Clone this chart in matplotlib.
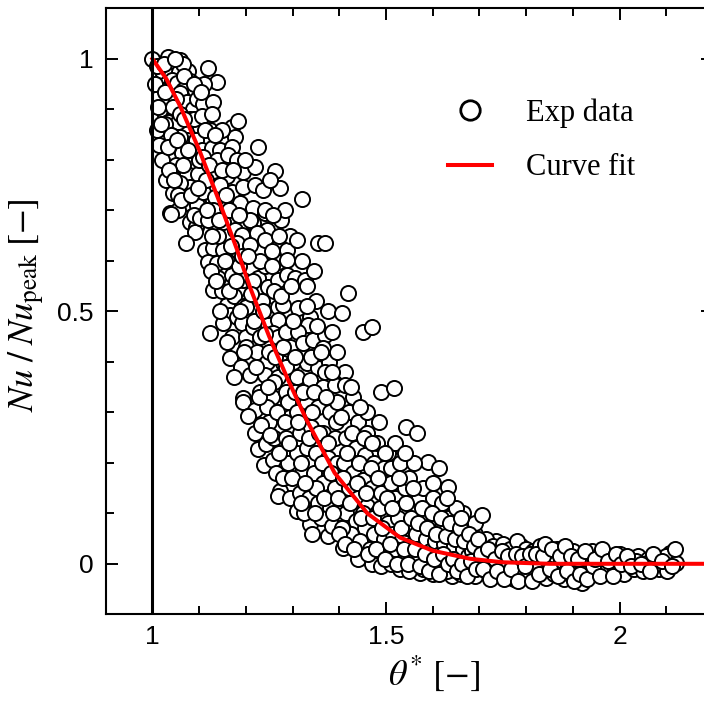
import matplotlib
matplotlib.use("Agg")
import matplotlib.pyplot as plt
from matplotlib.lines import Line2D
import numpy as np

# ---------------- data ----------------
# experimental points, grouped by theta* range: (theta*, Nu/Nu_peak)
exp_a = [(1.000,1.000),(1.031,0.998),(1.034,1.003),(1.059,0.998),(1.045,0.985),(1.020,0.975),(1.040,0.965),
         (1.057,0.974),(1.076,0.976),(1.065,0.990),(1.030,0.950),(1.042,0.959),(1.052,0.953),(1.080,0.956),
         (1.023,0.939),(1.066,0.939),(1.091,0.938),(1.059,0.933),(1.015,0.925),(1.034,0.914),(1.073,0.914),
         (1.050,0.920),(1.087,0.900),(1.095,0.920),(1.025,0.895),(1.045,0.885),(1.034,0.874),(1.066,0.860),
         (1.055,0.875),(1.080,0.880),(1.102,0.864),(1.023,0.840),(1.045,0.826),(1.073,0.840),(1.010,0.860),
         (1.060,0.845),(1.038,0.810),(1.063,0.814),(1.087,0.794),(1.020,0.800),(1.050,0.790),(1.073,0.771),
         (1.098,0.771),(1.030,0.760),(1.045,0.735),(1.080,0.747),(1.060,0.755),(1.038,0.695),(1.070,0.715),
         (1.098,0.717),(1.055,0.700),(1.080,0.677),(1.094,0.667),(1.040,0.693),(1.095,0.711),(1.091,0.657),
         (1.072,0.636),(1.088,0.690),(1.085,0.820),(1.093,0.840),(1.010,0.985),(1.025,0.990),(1.048,1.000),
         (1.068,0.965),(1.028,0.870),(1.015,0.830),(1.040,0.850),(1.090,0.880),(1.065,0.790),(1.035,0.780),
         (1.100,0.800),(1.055,0.730)]
exp_b = [(1.119,0.981),(1.138,0.954),(1.108,0.910),(1.130,0.914),(1.106,0.886),(1.127,0.890),(1.123,0.860),
         (1.106,0.820),(1.127,0.824),(1.144,0.820),(1.108,0.806),(1.138,0.800),(1.130,0.777),(1.108,0.737),
         (1.134,0.727),(1.130,0.701),(1.102,0.685),(1.113,0.622),(1.130,0.626),(1.151,0.622),(1.119,0.598),
         (1.138,0.596),(1.159,0.655),(1.151,0.677),(1.159,0.705),(1.170,0.864),(1.183,0.876),(1.176,0.846),
         (1.170,0.826),(1.162,0.810),(1.159,0.767),(1.194,0.775),(1.170,0.737),(1.194,0.747),(1.187,0.715),
         (1.194,0.667),(1.176,0.661),(1.191,0.651),(1.180,0.636),(1.141,0.566),(1.130,0.542),(1.170,0.572),
         (1.187,0.546),(1.194,0.562),(1.159,0.512),(1.166,0.493),(1.151,0.477),(1.123,0.457),(1.180,0.489),
         (1.191,0.477),(1.180,0.429),(1.166,0.407),(1.194,0.328),(1.193,0.320),(1.115,0.760),(1.145,0.750),
         (1.120,0.680),(1.165,0.700),(1.150,0.860),(1.180,0.800),(1.140,0.650),(1.160,0.600),(1.185,0.590),
         (1.125,0.580),(1.150,0.540),(1.175,0.530),(1.195,0.510),(1.170,0.450),(1.190,0.390),(1.175,0.370),
         (1.160,0.440),(1.145,0.500),(1.200,0.450),(1.110,0.950)]
exp_c = [(1.226,0.826),(1.219,0.785),(1.262,0.777),(1.273,0.745),(1.219,0.751),(1.215,0.705),(1.241,0.695),
         (1.215,0.675),(1.245,0.661),(1.209,0.681),(1.241,0.701),(1.224,0.655),(1.241,0.642),(1.209,0.632),
         (1.266,0.626),(1.288,0.622),(1.269,0.598),(1.288,0.602),(1.226,0.566),(1.248,0.548),(1.269,0.562),
         (1.288,0.572),(1.201,0.508),(1.215,0.469),(1.248,0.502),(1.269,0.508),(1.280,0.512),(1.269,0.483),
         (1.230,0.449),(1.258,0.457),(1.269,0.449),(1.201,0.429),(1.224,0.419),(1.245,0.399),(1.280,0.397),
         (1.300,0.399),(1.209,0.373),(1.241,0.373),(1.269,0.369),(1.219,0.304),(1.204,0.292),(1.227,0.228),
         (1.244,0.238),(1.239,0.195),(1.259,0.205),(1.273,0.145),(1.269,0.135),(1.294,0.131),(1.230,0.340),
         (1.255,0.330),(1.285,0.340),(1.220,0.260),(1.250,0.280),(1.275,0.300),(1.295,0.290),(1.260,0.250),
         (1.285,0.250),(1.265,0.180),(1.290,0.200),(1.280,0.170),(1.240,0.590),(1.260,0.540),(1.235,0.520),
         (1.285,0.460),(1.250,0.420),(1.295,0.430),(1.230,0.600),(1.255,0.620),(1.275,0.680),(1.295,0.650),
         (1.215,0.560),(1.260,0.360),(1.290,0.320),(1.245,0.310)]
exp_d = [(1.320,0.722),(1.309,0.642),(1.354,0.636),(1.369,0.636),(1.305,0.566),(1.326,0.562),(1.311,0.506),
         (1.337,0.489),(1.333,0.473),(1.311,0.459),(1.322,0.437),(1.343,0.443),(1.369,0.453),(1.365,0.427),
         (1.330,0.397),(1.354,0.387),(1.379,0.399),(1.309,0.369),(1.337,0.363),(1.365,0.350),(1.390,0.354),
         (1.309,0.105),(1.337,0.079),(1.375,0.056),(1.310,0.300),(1.330,0.320),(1.355,0.310),(1.380,0.300),
         (1.395,0.320),(1.315,0.260),(1.340,0.270),(1.365,0.260),(1.390,0.250),(1.310,0.220),(1.330,0.230),
         (1.350,0.220),(1.375,0.210),(1.395,0.200),(1.320,0.180),(1.345,0.180),(1.365,0.160),(1.390,0.150),
         (1.315,0.140),(1.335,0.130),(1.355,0.120),(1.380,0.110),(1.400,0.100),(1.325,0.100),(1.360,0.090),
         (1.385,0.075),(1.350,0.150),(1.330,0.550),(1.350,0.520),(1.375,0.500),(1.320,0.600),(1.345,0.580),
         (1.395,0.420),(1.385,0.460),(1.340,0.410),(1.305,0.340),(1.370,0.380)]
exp_e = [(1.418,0.536),(1.405,0.497),(1.450,0.459),(1.469,0.469),(1.412,0.379),(1.412,0.354),(1.490,0.340),
         (1.408,0.032),(1.420,0.300),(1.440,0.280),(1.460,0.260),(1.480,0.240),(1.415,0.250),(1.435,0.230),
         (1.455,0.215),(1.475,0.200),(1.495,0.190),(1.410,0.200),(1.430,0.180),(1.450,0.165),(1.470,0.150),
         (1.490,0.140),(1.420,0.150),(1.440,0.130),(1.460,0.115),(1.480,0.100),(1.500,0.090),(1.415,0.100),
         (1.435,0.085),(1.455,0.070),(1.475,0.060),(1.495,0.050),(1.425,0.060),(1.445,0.045),(1.465,0.030),
         (1.485,0.020),(1.440,0.010),(1.470,0.000),(1.490,-0.005),(1.405,0.070),(1.450,0.100),(1.430,0.330),
         (1.460,0.300),(1.485,0.280)]
exp_f = [(1.518,0.348),(1.543,0.270),(1.567,0.260),(1.589,0.201),(1.614,0.189),(1.632,0.153),(1.664,0.101),
         (1.572,-0.018),(1.642,-0.024),(1.675,0.056),(1.510,0.160),(1.520,0.130),(1.530,0.110),(1.540,0.150),
         (1.550,0.120),(1.560,0.100),(1.570,0.130),(1.580,0.090),(1.590,0.110),(1.600,0.080),(1.610,0.100),
         (1.620,0.070),(1.630,0.090),(1.640,0.060),(1.650,0.080),(1.660,0.050),(1.670,0.070),(1.680,0.045),
         (1.690,0.060),(1.700,0.040),(1.505,0.080),(1.515,0.060),(1.525,0.090),(1.535,0.050),(1.545,0.070),
         (1.555,0.040),(1.565,0.060),(1.575,0.030),(1.585,0.050),(1.595,0.025),(1.605,0.045),(1.615,0.020),
         (1.625,0.040),(1.635,0.015),(1.645,0.035),(1.655,0.010),(1.665,0.030),(1.675,0.015),(1.685,0.025),
         (1.695,0.005),(1.500,0.020),(1.510,0.000),(1.520,0.030),(1.530,-0.010),(1.540,0.010),(1.550,-0.015),
         (1.560,0.005),(1.570,0.010),(1.580,-0.010),(1.590,0.000),(1.600,-0.020),(1.610,-0.005),(1.620,0.000),
         (1.630,-0.015),(1.650,-0.005),(1.660,-0.020),(1.670,0.000),(1.680,-0.010),(1.690,-0.025),(1.700,0.000),
         (1.510,0.190),(1.530,0.200),(1.505,0.220),(1.520,0.240),(1.550,0.170),(1.580,0.150),(1.600,0.130),
         (1.620,0.120),(1.650,0.110),(1.690,0.080)]
exp_g = [(1.706,0.097),(1.736,0.046),(1.789,0.036),(1.941,0.026),(2.109,0.022),(1.715,0.050),(1.730,0.035),
         (1.750,0.040),(1.765,0.030),(1.780,0.045),(1.800,0.030),(1.815,0.025),(1.830,0.035),(1.850,0.020),
         (1.865,0.030),(1.880,0.020),(1.900,0.025),(1.920,0.015),(1.960,0.020),(1.980,0.015),(2.000,0.020),
         (2.020,0.010),(2.040,0.015),(2.060,0.010),(2.080,0.012),(2.100,0.015),(1.710,0.015),(1.725,0.005),
         (1.740,0.020),(1.755,0.000),(1.770,0.010),(1.785,0.005),(1.800,0.000),(1.815,0.010),(1.830,-0.005),
         (1.845,0.005),(1.860,0.000),(1.875,0.008),(1.890,-0.002),(1.905,0.005),(1.920,0.000),(1.935,0.005),
         (1.950,-0.003),(1.965,0.005),(1.980,0.000),(1.995,0.003),(2.010,-0.002),(2.035,0.006),(2.059,0.002),
         (2.080,0.000),(2.120,0.002),(1.715,-0.015),(1.730,-0.025),(1.745,-0.010),(1.760,-0.020),(1.775,-0.030),
         (1.790,-0.015),(1.805,-0.025),(1.820,-0.010),(1.842,-0.028),(1.860,-0.020),(1.880,-0.030),(1.898,-0.024),
         (1.919,-0.038),(1.935,-0.015),(1.950,-0.020),(1.970,-0.010),(1.990,-0.015),(2.010,-0.020),(2.030,-0.010),
         (2.050,-0.015),(2.070,-0.005),(2.084,-0.010),(2.101,-0.014)]
exp_h = [(1.005,0.950),(1.012,0.905),(1.018,0.870),(1.027,0.935),(1.033,0.825),(1.043,0.905),(1.047,0.760),
         (1.053,0.840),(1.058,0.890),(1.062,0.720),(1.068,0.880),(1.077,0.820),(1.083,0.730),(1.088,0.950),
         (1.097,0.745),(1.104,0.935),(1.112,0.860),(1.117,0.700),(1.122,0.790),(1.128,0.650),(1.133,0.850),
         (1.137,0.560),(1.143,0.680),(1.148,0.780),(1.155,0.600),(1.157,0.730),(1.163,0.540),(1.168,0.630),
         (1.172,0.780),(1.178,0.560),(1.185,0.690),(1.188,0.500),(1.192,0.610),(1.197,0.420),(1.199,0.800),
         (1.205,0.610),(1.212,0.535),(1.218,0.480),(1.222,0.390),(1.228,0.330),(1.232,0.275),(1.236,0.500),
         (1.242,0.455),(1.247,0.350),(1.252,0.255),(1.256,0.590),(1.262,0.410),(1.266,0.300),(1.270,0.220),
         (1.276,0.530),(1.279,0.430),(1.283,0.280),(1.287,0.390),(1.292,0.240),(1.297,0.550),(1.298,0.170),
         (1.272,0.650),(1.283,0.700),(1.258,0.690),(1.236,0.740),(1.252,0.760)]
exp_i = [(1.302,0.480),(1.306,0.410),(1.312,0.280),(1.318,0.200),(1.322,0.340),(1.326,0.160),(1.331,0.510),
         (1.336,0.250),(1.341,0.300),(1.346,0.340),(1.348,0.100),(1.352,0.470),(1.357,0.260),(1.362,0.200),
         (1.367,0.130),(1.371,0.330),(1.376,0.240),(1.382,0.180),(1.387,0.100),(1.392,0.280),(1.397,0.130),
         (1.399,0.060),(1.360,0.420),(1.385,0.380),(1.318,0.120),(1.342,0.060),(1.403,0.290),(1.407,0.170),
         (1.413,0.040),(1.417,0.220),(1.423,0.120),(1.428,0.260),(1.432,0.030),(1.437,0.160),(1.442,0.200),
         (1.447,0.090),(1.452,0.250),(1.457,0.140),(1.462,0.020),(1.467,0.190),(1.472,0.090),(1.478,0.030),
         (1.482,0.170),(1.487,0.110),(1.492,0.070),(1.497,0.010),(1.445,0.310),(1.470,0.240),(1.425,0.350),
         (1.498,0.220)]
exp_j = [(1.503,0.130),(1.508,0.040),(1.513,0.110),(1.523,0.000),(1.527,0.170),(1.533,0.070),(1.538,0.030),
         (1.543,0.120),(1.548,0.000),(1.553,0.090),(1.558,0.150),(1.562,0.030),(1.568,0.080),(1.573,-0.005),
         (1.578,0.110),(1.583,0.020),(1.588,0.070),(1.593,-0.015),(1.598,0.100),(1.603,0.010),(1.608,0.060),
         (1.613,-0.020),(1.618,0.090),(1.623,0.020),(1.628,0.055),(1.633,0.000),(1.638,0.080),(1.643,0.010),
         (1.648,0.050),(1.653,-0.015),(1.658,0.070),(1.663,0.000),(1.668,0.045),(1.673,-0.025),(1.678,0.060),
         (1.683,0.005),(1.688,0.035),(1.693,-0.010),(1.698,0.050),(1.560,0.200),(1.540,0.220),(1.600,0.160),
         (1.630,0.130),(1.660,0.090)]
exp_k = [(1.703,0.020),(1.708,-0.010),(1.718,0.030),(1.722,-0.030),(1.733,0.010),(1.738,-0.015),(1.748,0.025),
         (1.752,-0.030),(1.762,0.015),(1.768,-0.010),(1.778,0.020),(1.782,-0.035),(1.792,0.015),(1.797,-0.005),
         (1.808,0.020),(1.812,-0.035),(1.822,0.020),(1.827,-0.020),(1.837,0.015),(1.840,0.040),(1.852,-0.010),
         (1.856,0.030),(1.868,-0.025),(1.872,0.015),(1.884,0.035),(1.887,-0.015),(1.895,0.015),(1.902,-0.035),
         (1.910,0.010),(1.915,-0.020),(1.927,0.025),(1.930,-0.030),(1.943,-0.005),(1.947,0.010),(1.958,-0.025),
         (1.962,0.030),(1.975,0.005),(1.985,-0.025),(1.992,0.020),(2.003,0.000),(2.015,0.015),(2.025,-0.005),
         (2.045,0.000),(2.065,-0.015),(2.072,0.020),(2.090,0.005),(2.113,-0.005),(2.118,0.030)]

# curve fit
fit_theta = [1.00, 1.03, 1.06, 1.10, 1.14, 1.18, 1.21, 1.25, 1.29, 1.33, 1.39, 1.46,
             1.53, 1.60, 1.68, 1.75, 1.85, 2.00, 2.20]
fit_nu = [1.00, 0.96, 0.905, 0.82, 0.725, 0.625, 0.545, 0.45, 0.365, 0.285, 0.18, 0.10,
          0.052, 0.026, 0.010, 0.003, 0.0, 0.0, 0.0]

x_ticks = [1, 1.5, 2]
x_ticklabels = ["1", "1.5", "2"]
y_ticks = [0, 0.5, 1]
y_ticklabels = ["0", "0.5", "1"]

# ---------------- plotting ----------------
plt.rcParams['mathtext.fontset'] = 'stix'
plt.rcParams['font.family'] = ['Liberation Sans', 'DejaVu Sans']

W, H = 704, 714
fig = plt.figure(figsize=(W / 100, H / 100), dpi=100)
left, right, top, bottom = 105.7, 713.0, 8.3, 614.3
ax = fig.add_axes([left / W, (H - bottom) / H, (right - left) / W, (bottom - top) / H])

pts = np.array(exp_a + exp_b + exp_c + exp_d + exp_e + exp_f + exp_g +
               exp_h + exp_i + exp_j + exp_k)
ax.scatter(pts[:, 0], pts[:, 1], s=118, facecolor='white', edgecolor='black',
           linewidths=1.4, zorder=2)
ax.plot(fit_theta, fit_nu, color='#ff0000', lw=2.9, zorder=3)
ax.axvline(1.0, color='black', lw=2.2, zorder=4)

ax.set_xlim(0.9, 2.2)
ax.set_ylim(-0.1, 1.1)
ax.set_xticks(x_ticks)
ax.set_xticklabels(x_ticklabels)
ax.set_yticks(y_ticks)
ax.set_yticklabels(y_ticklabels)
ax.set_xticks(np.arange(0.9, 2.21, 0.1), minor=True)
ax.set_yticks(np.arange(-0.1, 1.11, 0.1), minor=True)
ax.tick_params(which='both', direction='in', top=True, right=True, width=1.4,
               labelsize=19, colors='black')
ax.tick_params(which='major', length=8.6)
ax.tick_params(which='minor', length=5.6)
ax.tick_params(axis='x', which='major', pad=8)
ax.tick_params(axis='y', which='major', pad=9)
for sp in ax.spines.values():
    sp.set_linewidth(1.5)

ax.set_xlabel(r'$\theta^{*}\ [-]$', fontsize=26)
ax.xaxis.set_label_coords((434 - left) / (right - left), -0.064)
ax.set_ylabel(r'$Nu\;/\;Nu_{\mathrm{peak}}\;[-]$', fontsize=26)
ax.yaxis.set_label_coords((47 - left) / (right - left), 0.51)

handles = [Line2D([], [], marker='o', ls='none', mfc='white', mec='black', ms=14, mew=2.0),
           Line2D([], [], color='#ff0000', lw=2.9)]
leg = ax.legend(handles, ['Exp data', 'Curve fit'], loc='upper left',
                bbox_to_anchor=((448 - left) / (right - left), (bottom - 98) / (bottom - top)),
                frameon=False, borderpad=0, borderaxespad=0, handlelength=1.45,
                handletextpad=1.1, labelspacing=0.85,
                prop={'family': 'Liberation Serif', 'size': 22})

fig.savefig('out.png', dpi=100)
